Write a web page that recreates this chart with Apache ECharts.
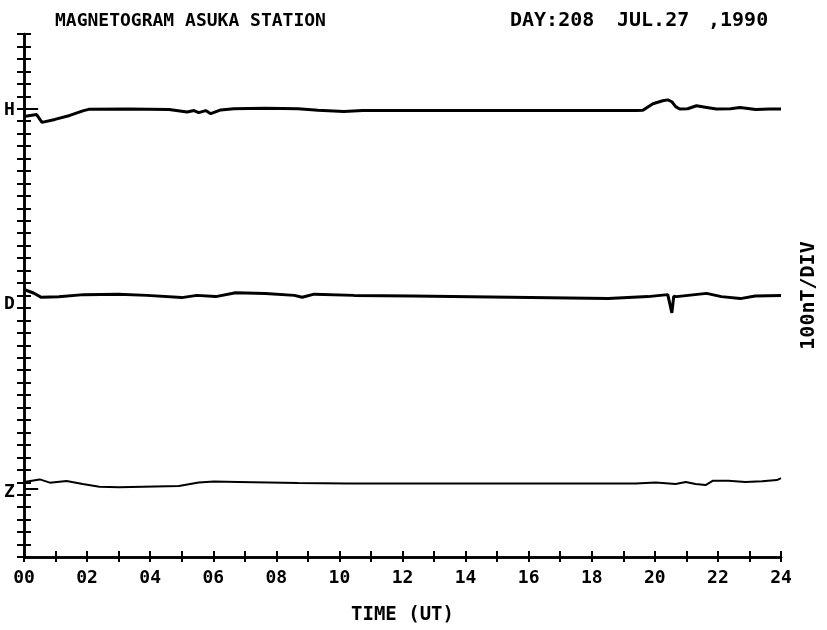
<!DOCTYPE html>
<html><head><meta charset="utf-8">
<script src="https://cdn.jsdelivr.net/npm/echarts@6/dist/echarts.min.js"></script>
<style>html,body{margin:0;padding:0;background:#fff;overflow:hidden}#c{width:827px;height:630px}</style>
</head><body><div id="c"></div>
<script>
// time in hours (UT), values in chart divisions (ticks)
const hTime = [0, 0.2, 0.4, 0.57, 0.98, 1.45, 1.89, 2.05, 3.3, 4.6, 5.17, 5.39, 5.54, 5.76, 5.92, 6.24, 6.65, 7.65, 8.69, 9.32, 10.14, 10.74, 13.4, 16.6, 19.4, 19.62, 19.94, 20.25, 20.41, 20.54, 20.66, 20.79, 21.04, 21.32, 21.6, 21.95, 22.4, 22.7, 23.2, 23.65, 24];
const hVal  = [35.38, 35.46, 35.53, 34.9, 35.14, 35.46, 35.85, 35.95, 35.97, 35.93, 35.73, 35.85, 35.69, 35.85, 35.6, 35.9, 36.0, 36.04, 36.0, 35.88, 35.77, 35.85, 35.85, 35.85, 35.85, 35.88, 36.4, 36.64, 36.71, 36.56, 36.17, 35.97, 36.0, 36.24, 36.12, 35.97, 36.0, 36.09, 35.93, 35.97, 35.97];

const dTime = [0, 0.3, 0.55, 1.1, 1.89, 2.99, 3.9, 5.0, 5.48, 6.08, 6.71, 7.65, 8.57, 8.82, 9.2, 10.46, 12.31, 15.43, 18.52, 19.78, 20.41, 20.47, 20.54, 20.6, 20.69, 21.64, 22.11, 22.71, 23.18, 24];
const dVal  = [21.48, 21.2, 20.85, 20.9, 21.07, 21.11, 21.01, 20.83, 21.01, 20.91, 21.22, 21.17, 21.01, 20.86, 21.11, 21.01, 20.96, 20.86, 20.75, 20.91, 21.07, 21.0, 19.6, 20.95, 20.91, 21.17, 20.91, 20.75, 20.96, 21.01];

const zTime = [0.05, 0.5, 0.82, 1.35, 1.86, 2.39, 3.02, 4.91, 5.54, 6.02, 6.8, 8.69, 10.27, 11.84, 19.4, 20.03, 20.66, 20.98, 21.29, 21.61, 21.83, 22.33, 22.87, 23.4, 23.87, 24];
const zVal  = [6.04, 6.23, 5.97, 6.10, 5.86, 5.65, 5.60, 5.71, 5.98, 6.06, 6.02, 5.94, 5.90, 5.90, 5.90, 5.98, 5.86, 6.02, 5.86, 5.78, 6.12, 6.12, 6.02, 6.08, 6.18, 6.33];

const hourLabels = ['00','02','04','06','08','10','12','14','16','18','20','22','24'];
const compNames = ['H', 'D', 'Z'];
const compBase = [35.89, 20.31, 5.16];
const titleLeft = 'MAGNETOGRAM ASUKA STATION';
const titleRightParts = ['DAY:208', 'JUL.27', ',1990'];
const xName = 'TIME (UT)';
const yName = '100nT/DIV';

const FONT = 'DejaVu Sans Mono';
const zip = (a, b) => a.map((t, i) => [t, b[i]]);

const chart = echarts.init(document.getElementById('c'), null, {renderer: 'canvas'});
const G = {left: 24, right: 41, top: 34, bottom: 61};
const axisLine = {show: true, lineStyle: {color: '#000', width: 2.5}};
const tickStyle = {color: '#000', width: 2};

chart.setOption({
  animation: false,
  backgroundColor: '#fff',
  grid: {left: G.left, right: G.right, top: G.top, bottom: G.bottom, containLabel: false},
  xAxis: [{
    type: 'value', min: 0, max: 24, interval: 1, position: 'bottom',
    axisLine: axisLine,
    axisTick: {show: true, inside: true, length: 6, lineStyle: tickStyle},
    splitLine: {show: false},
    axisLabel: {
      margin: 12, color: '#000', fontFamily: FONT, fontSize: 18, fontWeight: 'bold',
      formatter: v => (v % 2 === 0 ? hourLabels[v / 2] : '')
    },
    name: xName, nameLocation: 'middle', nameGap: 49,
    nameTextStyle: {color: '#000', fontFamily: FONT, fontSize: 19, fontWeight: 'bold'}
  }, {
    type: 'value', min: 0, max: 24, interval: 1, position: 'top',
    axisLine: axisLine,
    axisTick: {show: true, inside: true, length: 5, lineStyle: tickStyle},
    splitLine: {show: false}, axisLabel: {show: false}
  }],
  yAxis: [{
    type: 'value', min: 0, max: 42, interval: 1, position: 'left',
    axisLine: axisLine,
    axisTick: {show: true, inside: true, length: 7, lineStyle: tickStyle},
    splitLine: {show: false}, axisLabel: {show: false}
  }, {
    type: 'value', min: 0, max: 42, interval: 1, position: 'right',
    axisLine: axisLine,
    axisTick: {show: true, inside: true, length: 7, lineStyle: tickStyle},
    splitLine: {show: false}, axisLabel: {show: false},
    name: yName, nameLocation: 'middle', nameGap: 18, nameRotate: 90,
    nameTextStyle: {color: '#000', fontFamily: FONT, fontSize: 20, fontWeight: 'bold'}
  }],
  series: [
    {name: 'H', type: 'line', data: zip(hTime, hVal), showSymbol: false, symbol: 'none',
     lineStyle: {color: '#000', width: 3}, z: 5,
     markLine: {silent: true, symbol: 'none', label: {show: false},
       lineStyle: {color: '#000', width: 2, type: 'solid'},
       data: [[{coord: [0, 36]}, {coord: [0.45, 36]}]]}},
    {name: 'D', type: 'line', data: zip(dTime, dVal), showSymbol: false, symbol: 'none',
     lineStyle: {color: '#000', width: 3}, z: 5},
    {name: 'Z', type: 'line', data: zip(zTime, zVal), showSymbol: false, symbol: 'none',
     lineStyle: {color: '#000', width: 2}, z: 5,
     markLine: {silent: true, symbol: 'none', label: {show: false},
       lineStyle: {color: '#000', width: 2, type: 'solid'},
       data: [[{coord: [0, 5.5]}, {coord: [0.45, 5.5]}]]}}
  ]
});

// component letters on the left, positioned through the y scale
const lbl = compNames.map((n, i) => {
  const p = chart.convertToPixel({yAxisIndex: 0}, compBase[i]);
  return {type: 'text', x: 4, y: p,
          style: {text: n, font: 'bold 18px ' + FONT, fill: '#000', verticalAlign: 'middle', align: 'left'}};
});
const rightX = [510, 617, 708];
const titles = [
  {type: 'text', x: 55, y: 21, style: {text: titleLeft, font: 'bold 18px ' + FONT, fill: '#000', verticalAlign: 'middle'}}
].concat(titleRightParts.map((t, i) => ({
  type: 'text', x: rightX[i], y: 21,
  style: {text: t, font: 'bold 20px ' + FONT, fill: '#000', verticalAlign: 'middle'}
})));
chart.setOption({graphic: lbl.concat(titles)});
</script></body></html>
